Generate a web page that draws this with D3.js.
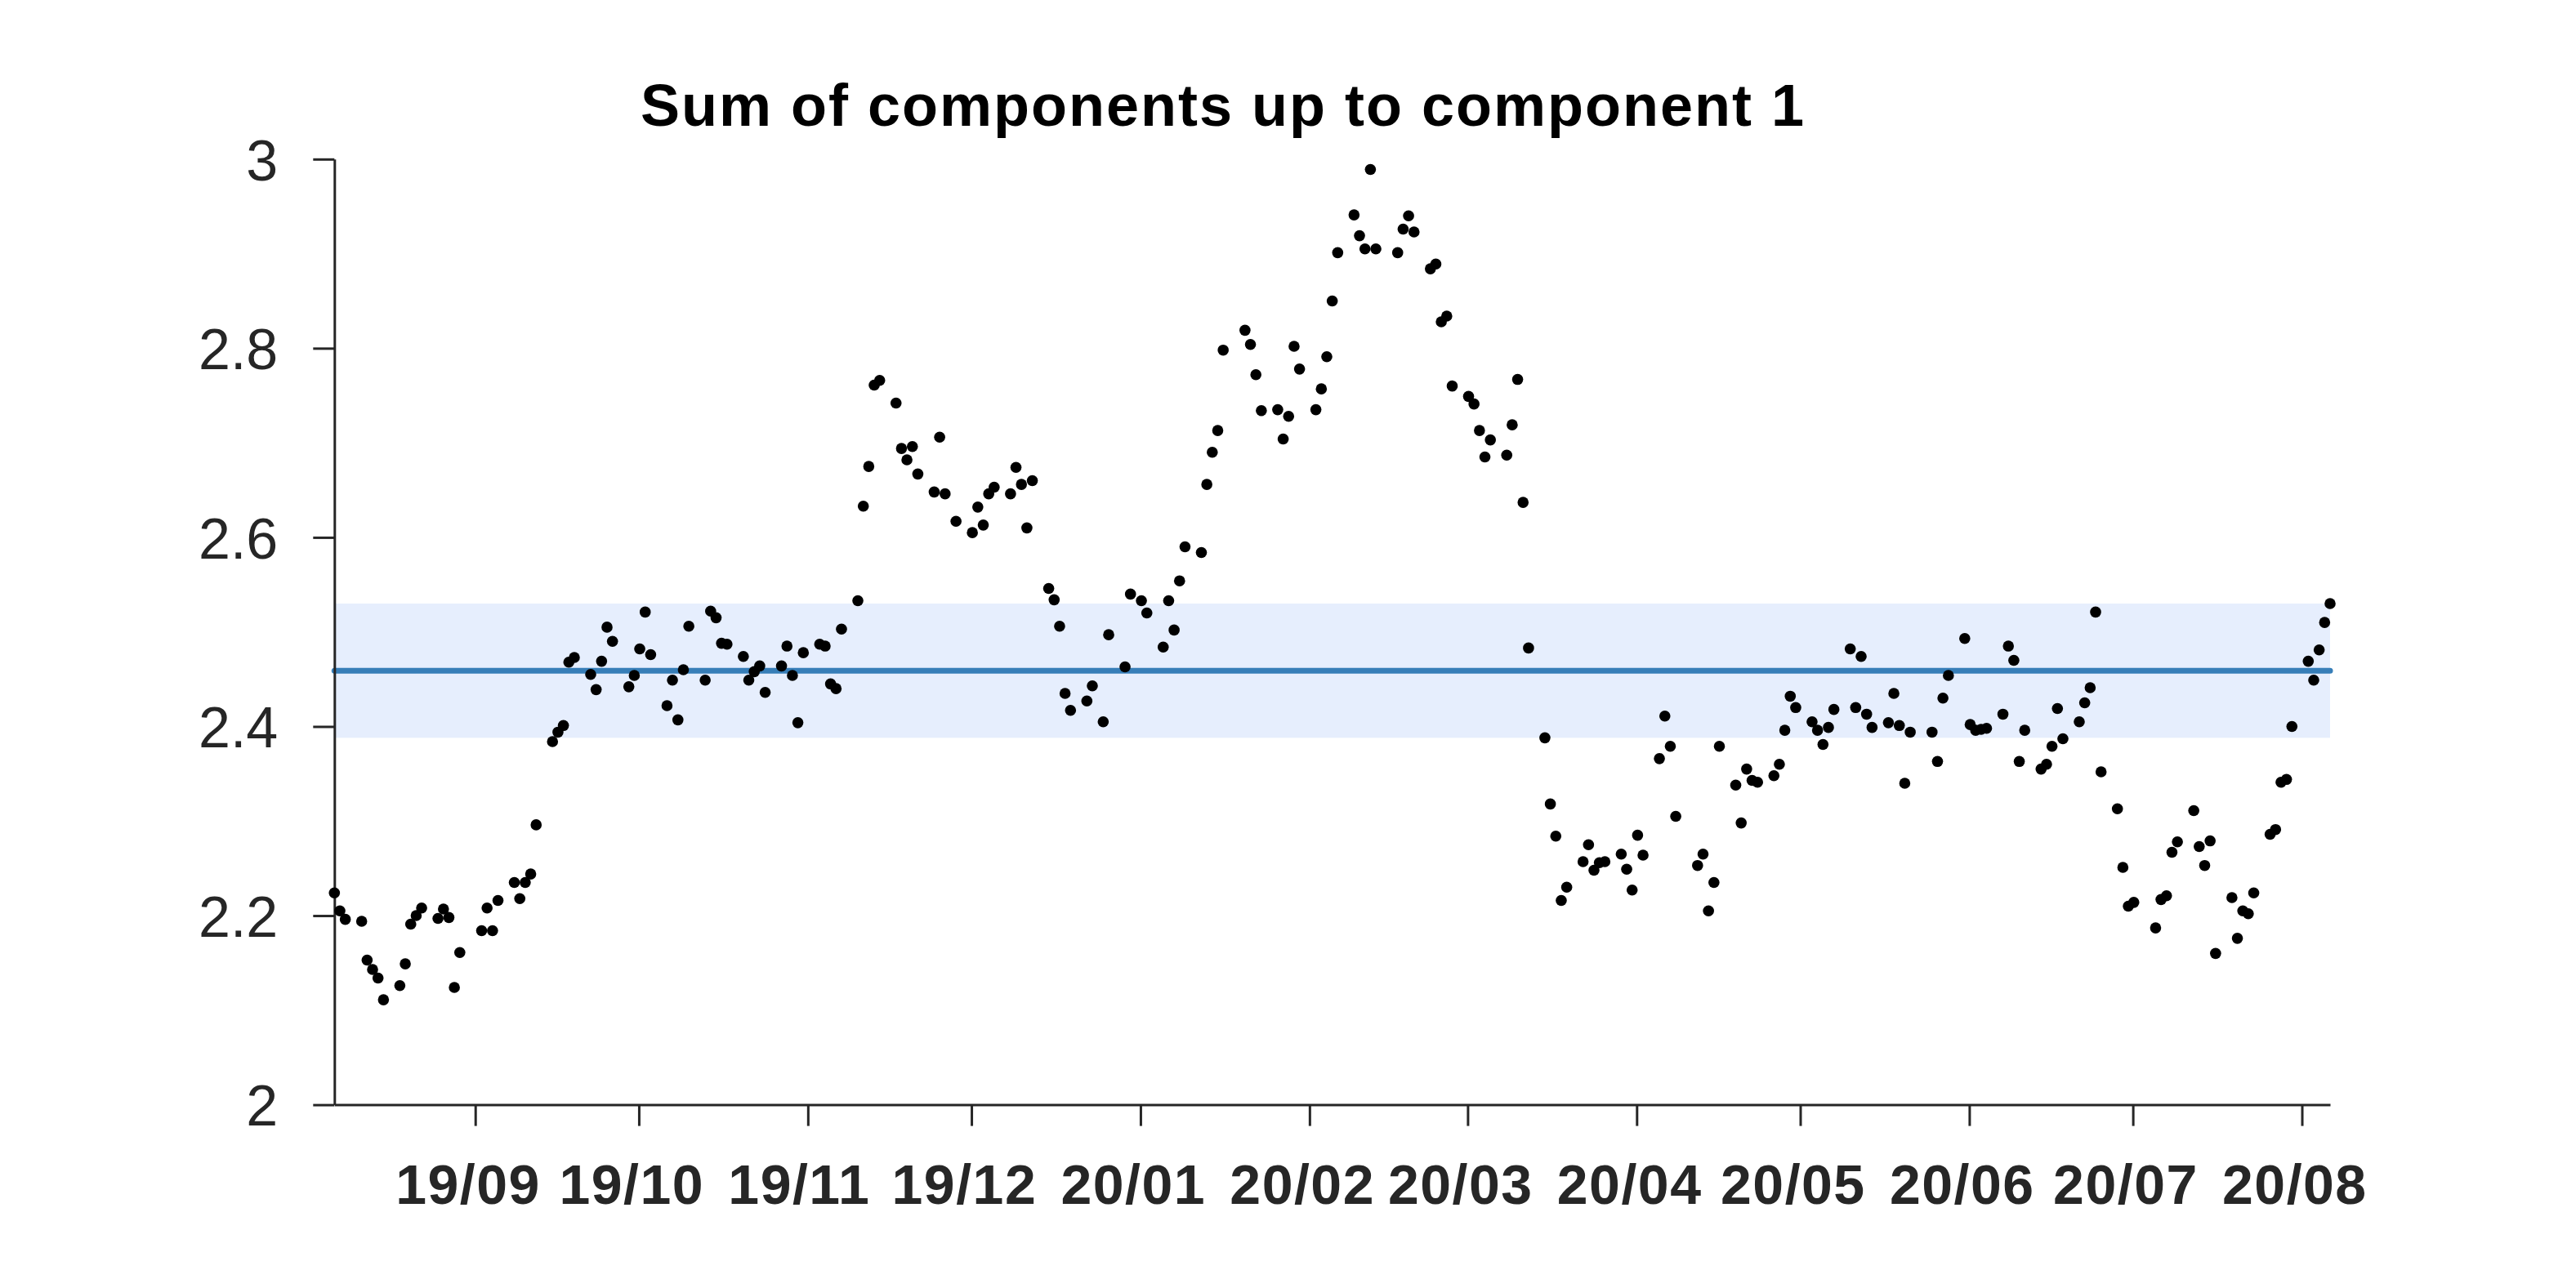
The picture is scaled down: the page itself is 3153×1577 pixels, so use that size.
<!DOCTYPE html>
<html>
<head>
<meta charset="utf-8">
<script src="https://cdn.jsdelivr.net/npm/d3@7"></script>
<style>
  html, body { margin: 0; padding: 0; background: #ffffff; }
  svg { display: block; }
</style>
</head>
<body>
<svg id="chart" width="3153" height="1577"></svg>
<script>
// ---------------- DATA ----------------
const chartTitle = "Sum of components up to component 1";

const dates = [
  "2019-08-07","2019-08-08","2019-08-09","2019-08-12","2019-08-13","2019-08-14","2019-08-15","2019-08-16","2019-08-19","2019-08-20","2019-08-21","2019-08-22","2019-08-23","2019-08-26","2019-08-27","2019-08-28","2019-08-29","2019-08-30",
  "2019-09-03","2019-09-04","2019-09-05","2019-09-06","2019-09-09","2019-09-10","2019-09-11","2019-09-12","2019-09-13","2019-09-16","2019-09-17","2019-09-18","2019-09-19","2019-09-20","2019-09-23","2019-09-24","2019-09-25","2019-09-26","2019-09-27","2019-09-30",
  "2019-10-01","2019-10-02","2019-10-03","2019-10-04","2019-10-07","2019-10-08","2019-10-09","2019-10-10","2019-10-11","2019-10-14","2019-10-15","2019-10-16","2019-10-17","2019-10-18","2019-10-21","2019-10-22","2019-10-23","2019-10-24","2019-10-25","2019-10-28","2019-10-29","2019-10-30","2019-10-31",
  "2019-11-01","2019-11-04","2019-11-05","2019-11-06","2019-11-07","2019-11-08","2019-11-11","2019-11-12","2019-11-13","2019-11-14","2019-11-15","2019-11-18","2019-11-19","2019-11-20","2019-11-21","2019-11-22","2019-11-25","2019-11-26","2019-11-27","2019-11-29",
  "2019-12-02","2019-12-03","2019-12-04","2019-12-05","2019-12-06","2019-12-09","2019-12-10","2019-12-11","2019-12-12","2019-12-13","2019-12-16","2019-12-17","2019-12-18","2019-12-19","2019-12-20","2019-12-23","2019-12-24","2019-12-26","2019-12-27","2019-12-30","2019-12-31",
  "2020-01-02","2020-01-03","2020-01-06","2020-01-07","2020-01-08","2020-01-09","2020-01-10","2020-01-13","2020-01-14","2020-01-15","2020-01-16","2020-01-17","2020-01-21","2020-01-22","2020-01-23","2020-01-24","2020-01-27","2020-01-28","2020-01-29","2020-01-30","2020-01-31",
  "2020-02-03","2020-02-04","2020-02-05","2020-02-06","2020-02-07","2020-02-10","2020-02-11","2020-02-12","2020-02-13","2020-02-14","2020-02-18","2020-02-19","2020-02-20","2020-02-21","2020-02-24","2020-02-25","2020-02-26","2020-02-27","2020-02-28",
  "2020-03-02","2020-03-03","2020-03-04","2020-03-05","2020-03-06","2020-03-09","2020-03-10","2020-03-11","2020-03-12","2020-03-13","2020-03-16","2020-03-17","2020-03-18","2020-03-19","2020-03-20","2020-03-23","2020-03-24","2020-03-25","2020-03-26","2020-03-27","2020-03-30","2020-03-31",
  "2020-04-01","2020-04-02","2020-04-03","2020-04-06","2020-04-07","2020-04-08","2020-04-09","2020-04-13","2020-04-14","2020-04-15","2020-04-16","2020-04-17","2020-04-20","2020-04-21","2020-04-22","2020-04-23","2020-04-24","2020-04-27","2020-04-28","2020-04-29","2020-04-30",
  "2020-05-01","2020-05-04","2020-05-05","2020-05-06","2020-05-07","2020-05-08","2020-05-11","2020-05-12","2020-05-13","2020-05-14","2020-05-15","2020-05-18","2020-05-19","2020-05-20","2020-05-21","2020-05-22","2020-05-26","2020-05-27","2020-05-28","2020-05-29",
  "2020-06-01","2020-06-02","2020-06-03","2020-06-04","2020-06-05","2020-06-08","2020-06-09","2020-06-10","2020-06-11","2020-06-12","2020-06-15","2020-06-16","2020-06-17","2020-06-18","2020-06-19","2020-06-22","2020-06-23","2020-06-24","2020-06-25","2020-06-26","2020-06-29","2020-06-30",
  "2020-07-01","2020-07-02","2020-07-06","2020-07-07","2020-07-08","2020-07-09","2020-07-10","2020-07-13","2020-07-14","2020-07-15","2020-07-16","2020-07-17","2020-07-20","2020-07-21","2020-07-22","2020-07-23","2020-07-24","2020-07-27","2020-07-28","2020-07-29","2020-07-30","2020-07-31",
  "2020-08-03","2020-08-04","2020-08-05","2020-08-06","2020-08-07"
];

const values = [
  2.224,2.205,2.196,2.194,2.153,2.143,2.134,2.111,2.126,2.149,2.191,2.200,2.208,2.197,2.207,2.198,2.124,2.161,
  2.184,2.208,2.184,2.216,2.235,2.218,2.235,2.244,2.296,2.384,2.394,2.401,2.468,2.473,2.455,2.439,2.469,2.505,2.490,2.442,
  2.454,2.482,2.521,2.476,2.422,2.449,2.407,2.460,2.506,2.449,2.522,2.515,2.488,2.487,2.474,2.449,2.458,2.464,2.436,2.464,2.485,2.454,2.404,
  2.478,2.487,2.485,2.445,2.440,2.503,2.533,2.633,2.675,2.761,2.766,2.742,2.694,2.682,2.696,2.667,2.648,2.706,2.646,2.617,
  2.605,2.632,2.613,2.646,2.653,2.646,2.674,2.656,2.610,2.660,2.546,2.534,2.506,2.435,2.417,2.427,2.443,2.405,2.497,2.463,2.540,
  2.533,2.520,2.484,2.533,2.502,2.554,2.590,2.584,2.656,2.690,2.713,2.798,2.819,2.804,2.772,2.734,2.735,2.704,2.728,2.802,2.778,
  2.735,2.757,2.791,2.850,2.901,2.941,2.919,2.905,2.989,2.905,2.901,2.926,2.940,2.923,2.884,2.889,2.828,2.834,2.760,
  2.749,2.741,2.713,2.685,2.703,2.687,2.719,2.767,2.637,2.483,2.388,2.318,2.284,2.216,2.230,2.257,2.275,2.248,2.256,2.257,2.265,2.249,
  2.227,2.285,2.264,2.366,2.411,2.379,2.305,2.253,2.265,2.205,2.235,2.379,2.338,2.298,2.355,2.343,2.341,2.348,2.360,2.396,2.432,
  2.420,2.405,2.396,2.381,2.399,2.418,2.482,2.420,2.474,2.413,2.399,2.404,2.435,2.401,2.340,2.394,2.394,2.363,2.430,2.454,
  2.493,2.402,2.396,2.397,2.398,2.413,2.485,2.470,2.363,2.396,2.355,2.360,2.379,2.419,2.387,2.405,2.425,2.441,2.521,2.352,2.313,2.251,
  2.210,2.214,2.187,2.217,2.221,2.267,2.278,2.311,2.273,2.253,2.279,2.160,2.219,2.176,2.205,2.202,2.224,2.286,2.291,2.341,2.344,2.400,
  2.469,2.449,2.481,2.510,2.530
];

const meanValue = 2.459;
const bandLow = 2.388;
const bandHigh = 2.530;

const yDomain = [2, 3];
const yTicks = [2, 2.2, 2.4, 2.6, 2.8, 3];
const yTickLabels = ["2", "2.2", "2.4", "2.6", "2.8", "3"];

const xTickDates = ["2019-09-01","2019-10-01","2019-11-01","2019-12-01","2020-01-01","2020-02-01",
                    "2020-03-01","2020-04-01","2020-05-01","2020-06-01","2020-07-01","2020-08-01"];
const xTickLabels = ["19/09","19/10","19/11","19/12","20/01","20/02",
                     "20/03","20/04","20/05","20/06","20/07","20/08"];

// ---------------- DRAWING ----------------
const W = 3153, H = 1577;
const plotLeft = 409.3, plotRight = 2852, plotTop = 194.8, plotBottom = 1352.6;
const FONT = "'Liberation Sans', Arial, Helvetica, sans-serif";
const AXIS_COLOR = "#262626";
const SHIFT_HOURS = -20; // sample timestamps sit slightly before calendar midnight

const parse = d3.utcParse("%Y-%m-%d");
const points = dates.map((d, i) => ({ t: d3.utcHour.offset(parse(d), SHIFT_HOURS), v: values[i] }));

const x = d3.scaleUtc()
  .domain(d3.extent(points, d => d.t))
  .range([plotLeft, plotRight]);

const y = d3.scaleLinear()
  .domain(yDomain)
  .range([plotBottom, plotTop]);

const svg = d3.select("#chart");
svg.append("rect").attr("width", W).attr("height", H).attr("fill", "#ffffff");

// confidence band
svg.append("rect")
  .attr("x", x.range()[0])
  .attr("width", x.range()[1] - x.range()[0])
  .attr("y", y(bandHigh))
  .attr("height", y(bandLow) - y(bandHigh))
  .attr("fill", "#e6eefd");

// mean line
svg.append("line")
  .attr("x1", x.range()[0]).attr("x2", x.range()[1])
  .attr("y1", y(meanValue)).attr("y2", y(meanValue))
  .attr("stroke", "#377eb8")
  .attr("stroke-width", 7)
  .attr("stroke-linecap", "round");

// y axis
const yAxis = d3.axisLeft(y)
  .tickValues(yTicks)
  .tickFormat((d, i) => yTickLabels[i])
  .tickSize(26)
  .tickSizeOuter(0)
  .tickPadding(43);
const gy = svg.append("g").attr("transform", `translate(${plotLeft},0)`).call(yAxis);
gy.select(".domain").attr("stroke", AXIS_COLOR).attr("stroke-width", 3);
gy.selectAll(".tick line").attr("stroke", AXIS_COLOR).attr("stroke-width", 3);
gy.selectAll(".tick text")
  .attr("fill", AXIS_COLOR)
  .attr("font-family", FONT)
  .attr("font-size", 70)
  .attr("dy", "0.36em");

// x axis
const xAxis = d3.axisBottom(x)
  .tickValues(xTickDates.map(parse))
  .tickFormat((d, i) => xTickLabels[i])
  .tickSize(26)
  .tickSizeOuter(0);
const gx = svg.append("g").attr("transform", `translate(0,${plotBottom})`).call(xAxis);
gx.select(".domain").attr("stroke", AXIS_COLOR).attr("stroke-width", 3);
gx.selectAll(".tick line").attr("stroke", AXIS_COLOR).attr("stroke-width", 3);
gx.selectAll(".tick text")
  .attr("fill", AXIS_COLOR)
  .attr("font-family", FONT)
  .attr("font-weight", "bold")
  .attr("font-size", 68)
  .attr("letter-spacing", 1.5)
  .attr("text-anchor", "start")
  .attr("x", -98)
  .attr("y", 121.5)
  .attr("dy", 0);

// data points
svg.append("g")
  .selectAll("circle")
  .data(points)
  .join("circle")
  .attr("cx", d => x(d.t))
  .attr("cy", d => y(d.v))
  .attr("r", 6.8)
  .attr("fill", "#000000");

// title
svg.append("text")
  .attr("x", 1497)
  .attr("y", 154)
  .attr("text-anchor", "middle")
  .attr("font-family", FONT)
  .attr("font-weight", "bold")
  .attr("font-size", 72)
  .attr("letter-spacing", 2)
  .attr("fill", "#000000")
  .text(chartTitle);
</script>
</body>
</html>
